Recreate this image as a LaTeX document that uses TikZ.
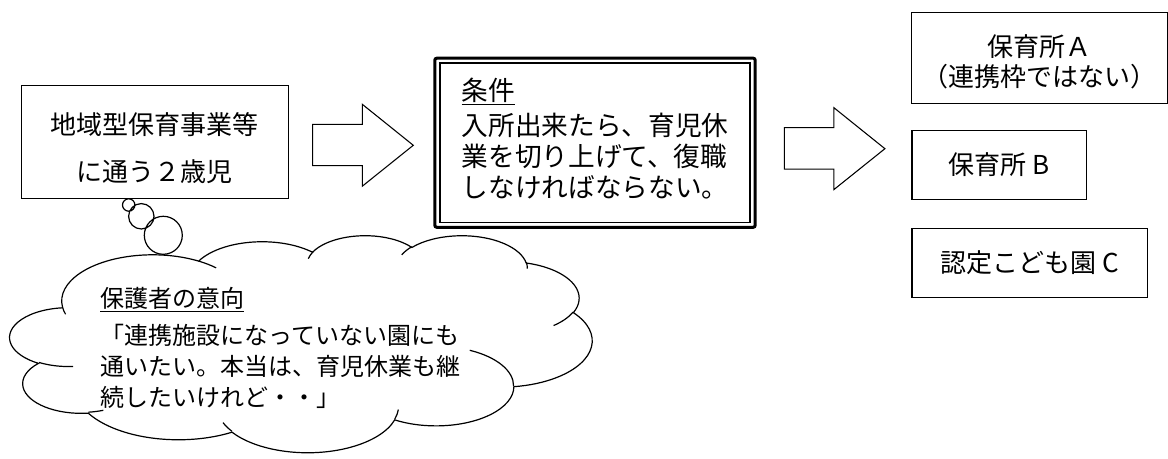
\documentclass[tikz,border=0pt]{standalone}
\usepackage{fontspec}
\setmainfont{Noto Sans CJK JP}
\tikzset{
  plainbox/.style={draw,line width=1pt,inner sep=0pt,outer sep=0pt,align=center,
    font=\fontsize{19.5pt}{22.5pt}\selectfont},
  puff/.code n args={4}{%
    \pgfmathsetmacro\puffs{atan2(sin(#3)/#2,cos(#3)/#1)}%
    \pgfmathsetmacro\puffe{atan2(sin(#3+#4)/#2,cos(#3+#4)/#1)}%
    \pgfmathsetmacro\puffd{mod(\puffe-\puffs+720,360)}%
    \edef\puffnext{\noexpand\pgfkeysalso{x radius=#1,y radius=#2,
      start angle=\puffs,delta angle=\puffd}}%
    \puffnext}
}
\begin{document}
\begin{tikzpicture}[x=0.75pt,y=-0.75pt]
\useasboundingbox (0,0) rectangle (1168,459);

% boxes
\node[plainbox,minimum width=200.4pt,minimum height=84.9pt,
  font=\fontsize{19.5pt}{35pt}\selectfont] (kids) at (154.9,142.2)
  {\rule{0pt}{25.3pt}地域型保育事業等\\に通う２歳児};
\node[plainbox,line width=2.25pt,rounded corners=1.5pt,minimum width=240.3pt,
  minimum height=126.8pt,align=left,text width=200pt,
  font=\fontsize{20pt}{23.25pt}\selectfont] (cond) at (595,142.75)
  {\underline{条件}\\[3pt]入所出来たら、育児休\\業を切り上げて、復職\\しなければならない。\rule[-7.6pt]{0pt}{0pt}};
\draw[line width=1.1pt] ([xshift=3.75pt,yshift=-3.75pt]cond.north west)
  rectangle ([xshift=-3.75pt,yshift=3.75pt]cond.south east);

\node[plainbox,minimum width=192pt,minimum height=68.4pt] (nurseA) at (1039.5,57.9)
  {\rule{0pt}{22.6pt}保育所Ａ\\（連携枠ではない）};
\node[plainbox,minimum width=130.65pt,minimum height=51.75pt] (nurseB) at (999.1,165) {保育所 B};
\node[plainbox,minimum width=176.6pt,minimum height=51.3pt] (kodomoC) at (1029.75,263) {認定こども園 C};

% arrows
\draw[line width=0.8pt] (312.7,124.3)--(362.3,124.3)--(362.3,104.3)--(413.3,145.3)
  --(362.3,186.2)--(362.3,165.7)--(312.7,165.7)--cycle;
\begin{scope}[shift={(471.6,3.4)}]
\draw[line width=0.8pt] (312.7,124.3)--(362.3,124.3)--(362.3,104.3)--(413.3,145.3)
  --(362.3,186.2)--(362.3,165.7)--(312.7,165.7)--cycle;
\end{scope}

% cloud
\begin{scope}[shift={(10,235)},x=10.104pt,y=-3.767pt,line width=0.9pt]
\draw[fill=white] (3.9,14.37)
  arc[puff={6.753}{9.19}{-190.4875}{123.7805}]
  arc[puff={5.333}{7.267}{-144.1024}{89.9452}]
  arc[puff={4.365}{5.945}{-145.8079}{99.723}]
  arc[puff={4.857}{6.595}{-130.9861}{117.2417}]
  arc[puff={5.333}{7.273}{-78.7089}{109.0269}]
  arc[puff={6.775}{9.22}{-46.2673}{130.269}]
  arc[puff={5.785}{7.867}{0.625}{114.0333}]
  arc[puff={6.752}{9.215}{22.4516}{115.1726}]
  arc[puff={7.72}{10.543}{66.2426}{75.711}]
  arc[puff={4.36}{5.918}{-274.9421}{146.7356}]
  arc[puff={4.345}{5.945}{-246.8285}{152.5189}]--cycle;
\draw (4.693,26.177) arc[puff={4.345}{5.945}{86.742}{26.4295}]
  (6.928,34.899) arc[puff={4.36}{5.918}{73.6105}{11.4475}]
  (16.478,39.09) arc[puff={6.752}{9.215}{137.6242}{14.0811}]
  (28.827,34.751) arc[puff={6.752}{9.215}{6.4533}{15.9984}]
  (34.129,22.954) arc[puff={5.785}{7.867}{-70.2924}{70.9174}]
  (41.798,15.354) arc[puff={5.333}{7.273}{30.318}{27.7515}]
  (38.324,5.426) arc[puff={4.857}{6.595}{-13.7443}{14.8589}]
  (29.078,3.952) arc[puff={4.857}{6.595}{-149.1815}{18.1954}]
  (22.141,4.72) arc[puff={4.365}{5.945}{-163.4943}{17.6864}]
  (14,5.192) arc[puff={6.753}{9.19}{-66.707}{12.3194}]
  (4.127,15.789) arc[puff={6.753}{9.19}{157.6544}{11.8582}];
\end{scope}
\draw[line width=0.9pt] (128.7,205) circle[radius=6.2] (141.3,216.3) circle[radius=12.7]
  (163.3,235.3) circle[radius=19];
\node[anchor=north west,inner sep=0pt,align=left,
  font=\fontsize{18pt}{23.25pt}\selectfont] (wish) at (100,287.3)
  {\underline{保護者の意向}\\[4.5pt]「連携施設になっていない園にも\\通いたい。本当は、育児休業も継\\続したいけれど・・」};
\end{tikzpicture}
\end{document}
